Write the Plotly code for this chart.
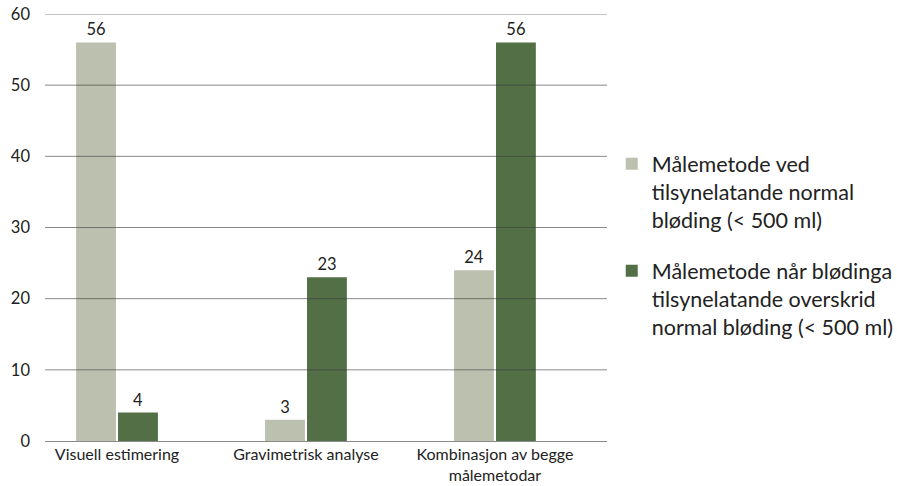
import plotly.graph_objects as go

categories = ["Visuell estimering", "Gravimetrisk analyse", "Kombinasjon av begge<br>målemetodar"]
normal_vals = [56, 3, 24]
over_vals = [4, 23, 56]
series_names = [
    "Målemetode ved<br>tilsynelatande normal<br>bløding (< 500 ml)",
    "Målemetode når blødinga<br>tilsynelatande overskrid<br>normal bløding (< 500 ml)",
]
colors = ["#BCC0AE", "#526F46"]
y_ticks = [0, 10, 20, 30, 40, 50, 60]

FONT = "Lato, 'Open Sans', sans-serif"

fig = go.Figure()
for name, vals, col, grp in zip(series_names, [normal_vals, over_vals], colors, ["a", "b"]):
    fig.add_trace(go.Bar(
        x=categories, y=vals, name=name, legendgroup=grp,
        marker=dict(color=col, line=dict(width=0)),
        text=vals, textposition="outside",
        textfont=dict(size=16.5, color="#222222", family=FONT),
        cliponaxis=False,
    ))

# grid lines drawn above the bars, as in the reference
for v in y_ticks[1:]:
    fig.add_shape(type="line", xref="paper", x0=0, x1=1, yref="y", y0=v, y1=v,
                  line=dict(color="rgba(60,60,60,0.6)", width=1), layer="above")

fig.update_layout(
    width=897, height=486,
    margin=dict(l=45, r=290, t=14, b=45),
    paper_bgcolor="white", plot_bgcolor="white",
    barmode="group", bargap=0.556, bargroupgap=0.05,
    font=dict(family=FONT, color="#222222"),
    showlegend=True,
    legend=dict(
        xref="container", yref="container",
        x=0.682, y=0.705, xanchor="left", yanchor="top",
        font=dict(size=21.5, color="#222222", family=FONT),
        valign="top", tracegroupgap=20, traceorder="grouped",
        bgcolor="rgba(0,0,0,0)",
    ),
)
fig.update_xaxes(
    range=[-0.381, 2.593], automargin=False,
    showgrid=False, showline=False, zeroline=False, ticks="",
    tickfont=dict(size=16, color="#222222"), ticklabelstandoff=2,
)
fig.update_yaxes(
    range=[0, 60], tickvals=y_ticks, showgrid=False, automargin=False,
    zeroline=True, zerolinecolor="rgba(60,60,60,0.6)", zerolinewidth=1,
    showline=False, ticks="", tickfont=dict(size=16.5, color="#222222"),
    ticklabelstandoff=14,
)

fig.write_html("out.html")
